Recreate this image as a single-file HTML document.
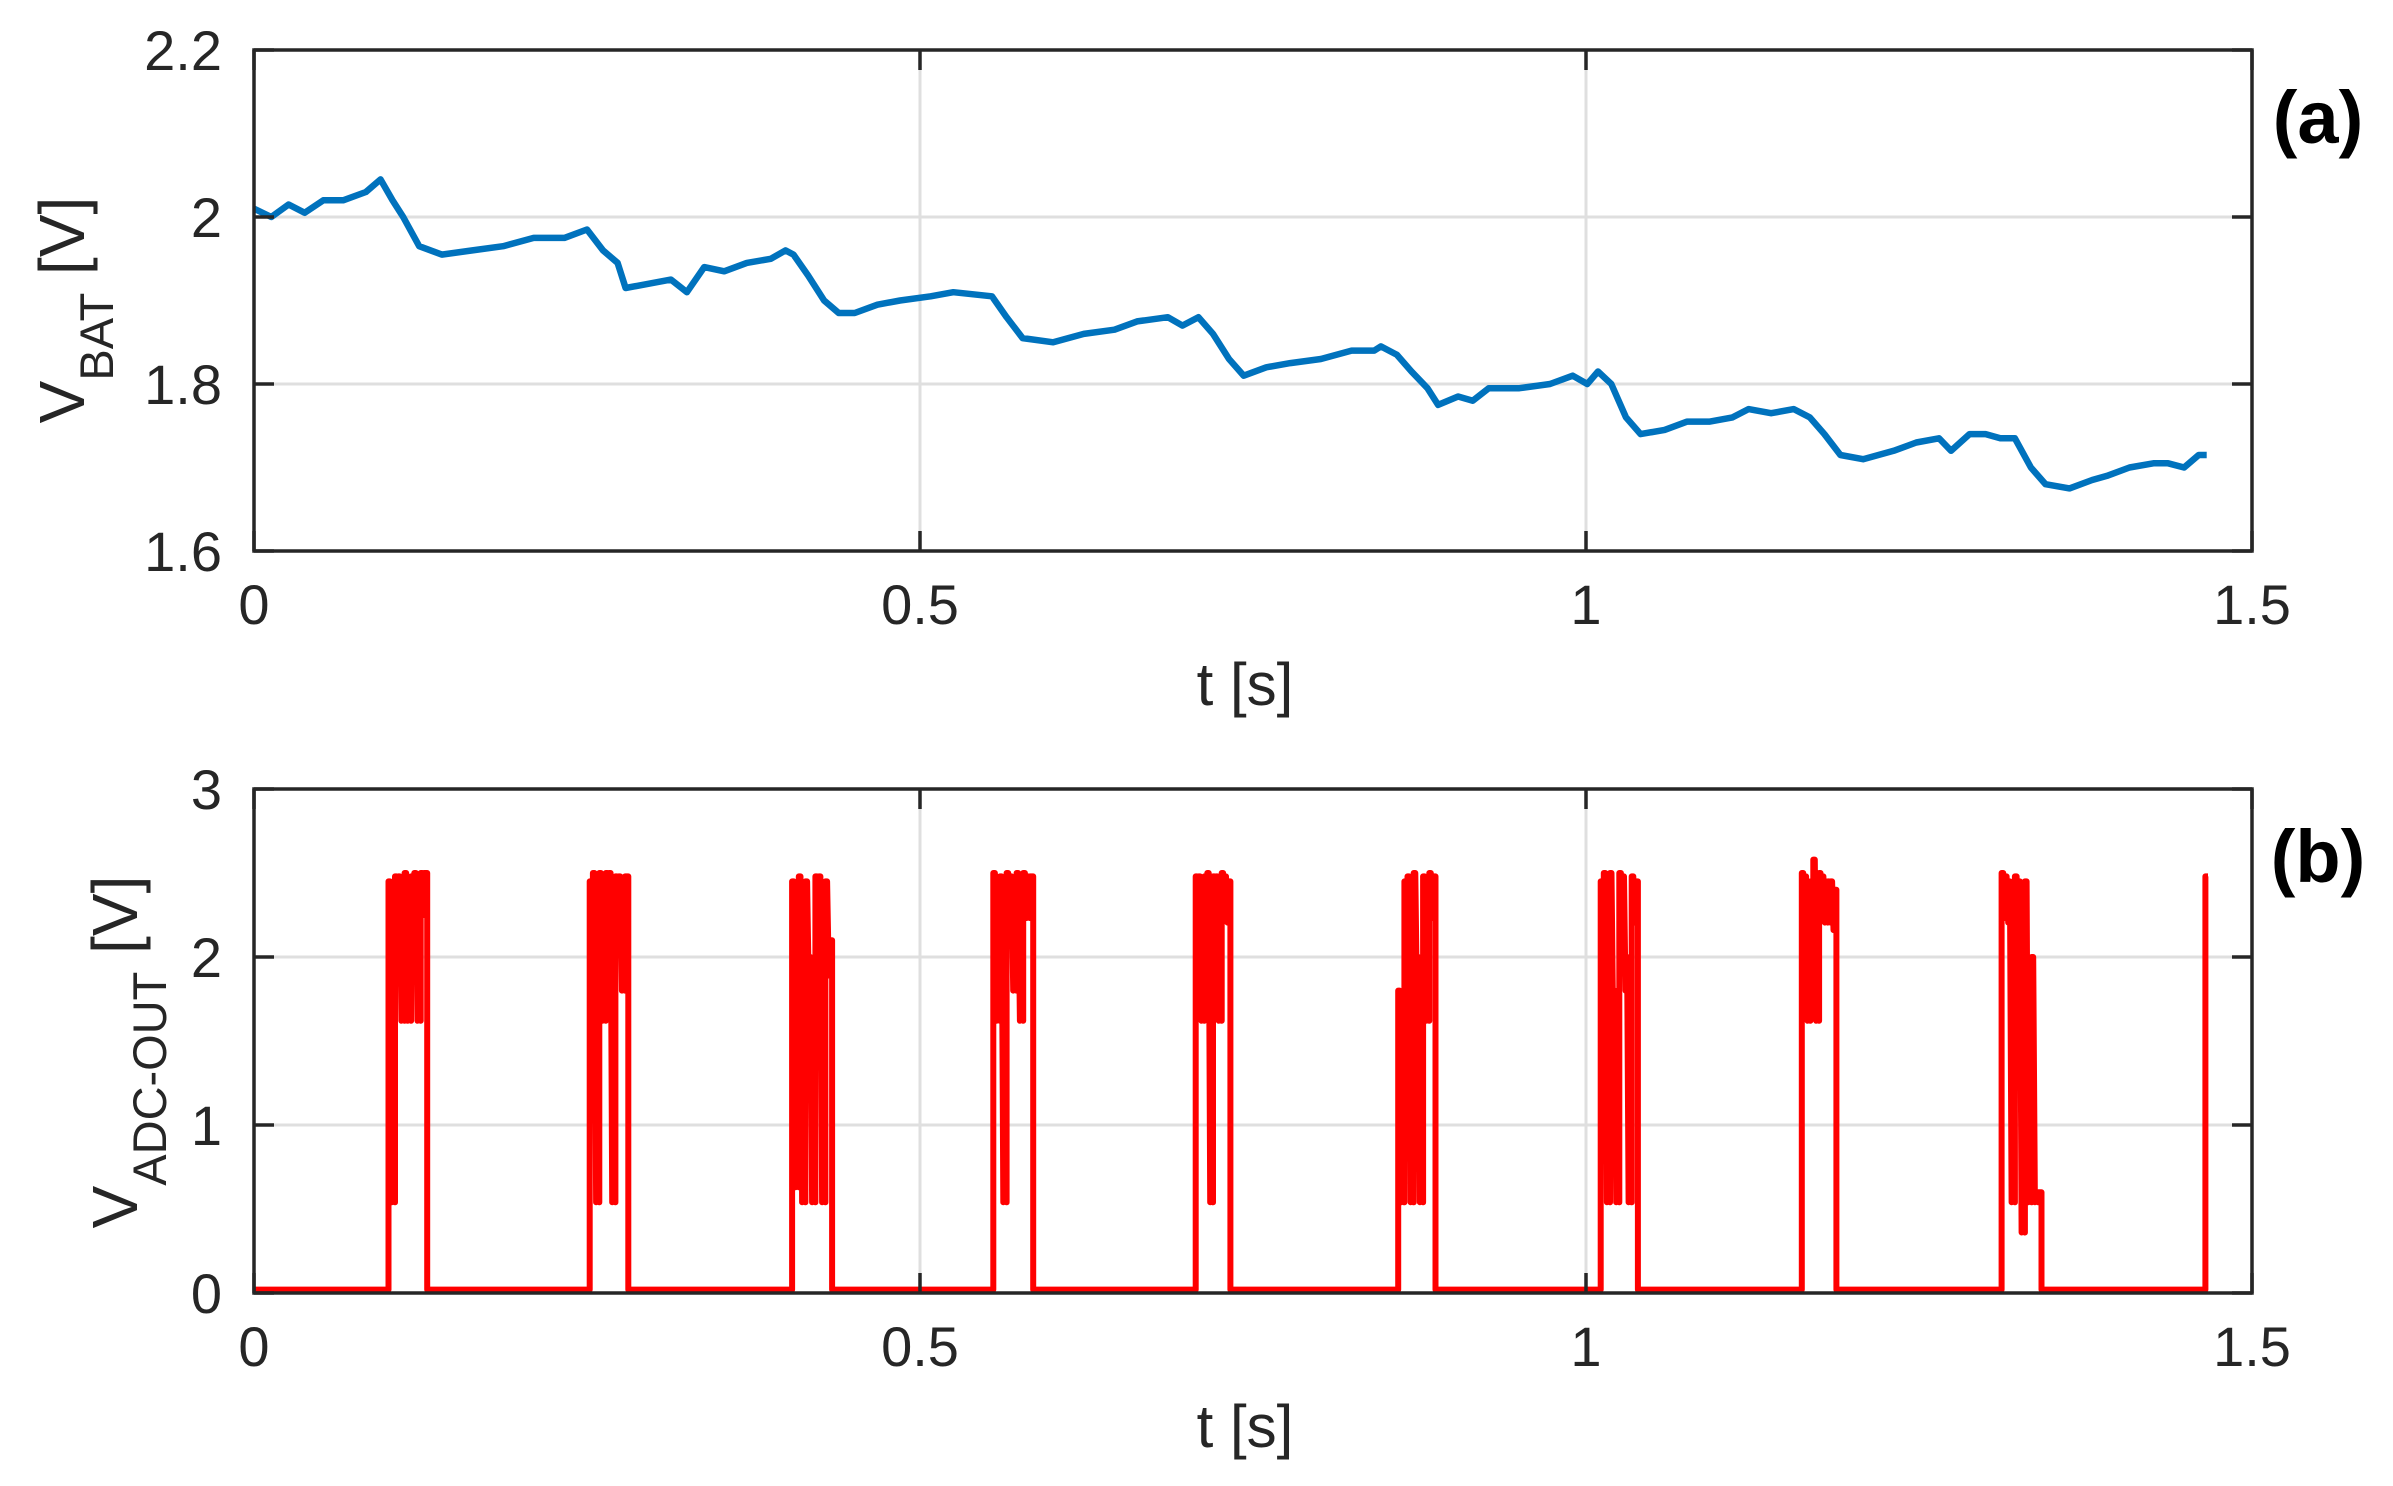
<!DOCTYPE html>
<html><head><meta charset="utf-8"><style>
html,body{margin:0;padding:0;background:#fff;}
svg{display:block;font-family:"Liberation Sans",Arial,sans-serif;}
</style></head><body>
<svg id="chart" width="2393" height="1486" viewBox="0 0 2393 1486" xmlns="http://www.w3.org/2000/svg"></svg>
<script>
// ---- Data: panel (a) battery voltage ----
const batTime = [0,.013,.026,.038,.052,.067,.084,.095,.104,.112,.124,.141,.164,.187,.210,.233,.250,.262,.273,.279,.296,.313,.325,.338,.353,.370,.388,.399,.405,.416,.428,.439,.451,.468,.485,.508,.525,.554,.565,.577,.600,.623,.646,.663,.686,.697,.709,.720,.732,.743,.760,.778,.801,.824,.841,.846,.858,.869,.881,.889,.904,.915,.927,.950,.973,.990,1.001,1.009,1.019,1.030,1.041,1.059,1.076,1.093,1.110,1.122,1.139,1.156,1.168,1.179,1.191,1.208,1.231,1.248,1.265,1.274,1.288,1.300,1.311,1.322,1.334,1.345,1.363,1.380,1.391,1.408,1.426,1.437,1.449,1.460,1.466];
const batVolt = [2.01,2.0,2.015,2.005,2.02,2.02,2.03,2.045,2.02,2.0,1.965,1.955,1.96,1.965,1.975,1.975,1.985,1.96,1.945,1.915,1.92,1.925,1.91,1.94,1.935,1.945,1.95,1.96,1.955,1.93,1.9,1.885,1.885,1.895,1.9,1.905,1.91,1.905,1.88,1.855,1.85,1.86,1.865,1.875,1.88,1.87,1.88,1.86,1.83,1.81,1.82,1.825,1.83,1.84,1.84,1.845,1.835,1.815,1.795,1.775,1.785,1.78,1.795,1.795,1.8,1.81,1.8,1.815,1.8,1.76,1.74,1.745,1.755,1.755,1.76,1.77,1.765,1.77,1.76,1.74,1.715,1.71,1.72,1.73,1.735,1.72,1.74,1.74,1.735,1.735,1.7,1.68,1.675,1.685,1.69,1.7,1.705,1.705,1.7,1.715,1.715];
const aYTicks = [1.6,1.8,2.0,2.2];
const aYTickLabels = ["1.6","1.8","2","2.2"];
// ---- Data: panel (b) ADC output ----
const burstStart = [.101,.252,.404,.555,.707,.859,1.011,1.162,1.312,1.465];
const burstEnd   = [.130,.281,.434,.585,.733,.887,1.039,1.188,1.342,1.467];
const burstLevels = [
 [2.45,0.6,2.48,2.48,1.8,2.5,1.8,2.48,2.5,1.8,2.5,2.5],
 [2.45,2.5,0.6,2.5,1.8,2.5,2.5,0.6,2.48,2.48,2.0,2.48],
 [2.45,0.7,2.48,0.6,2.45,2.0,0.6,2.48,2.48,0.6,2.45,2.1],
 [2.5,1.8,2.48,0.6,2.5,2.48,2.0,2.5,1.8,2.5,2.48,2.48],
 [2.48,2.48,1.8,2.48,2.5,0.6,2.48,2.48,1.8,2.5,2.48,2.45],
 [1.8,0.6,2.45,2.48,0.6,2.5,2.0,0.6,2.48,1.8,2.5,2.48],
 [2.45,2.5,0.6,2.5,1.8,0.6,2.5,2.48,2.0,0.6,2.48,2.45],
 [2.5,2.48,1.8,2.45,2.58,1.8,2.5,2.48,2.45,2.45,2.45,2.4],
 [2.5,2.48,2.45,0.6,2.48,2.45,0.4,2.45,0.6,2.0,0.6,0.6],
 [2.48]
];
const bYTicks = [0,1,2,3];
const bYTickLabels = ["0","1","2","3"];
const xTicks = [0,0.5,1,1.5];
const xTickLabels = ["0","0.5","1","1.5"];

const NS = "http://www.w3.org/2000/svg";
const svg = document.getElementById('chart');
function mk(tag, attrs, parent){ const e=document.createElementNS(NS,tag); for(const k in attrs) e.setAttribute(k,attrs[k]); (parent||svg).appendChild(e); return e; }

const L=254, R=2252;
const xs = t => L + (t/1.5)*(R-L);
const panels = [
 {top:50, bot:551, ymin:1.6, ymax:2.2, ticks:aYTicks, labels:aYTickLabels, name:'a'},
 {top:789, bot:1293, ymin:0, ymax:3, ticks:bYTicks, labels:bYTickLabels, name:'b'}
];
panels.forEach(p => { p.ys = v => p.bot - (v-p.ymin)/(p.ymax-p.ymin)*(p.bot-p.top); });

function drawAxes(p){
  const g = mk('g',{});
  
  
  xTicks.forEach(t=>{ if(t>0&&t<1.5){ const l=mk('line',{x1:xs(t),x2:xs(t),y1:p.top,y2:p.bot,stroke:'#dfdfdf','stroke-width':3},g);
      }});
  p.ticks.forEach(v=>{ if(v>p.ymin&&v<p.ymax){ const l=mk('line',{x1:L,x2:R,y1:p.ys(v),y2:p.ys(v),stroke:'#dfdfdf','stroke-width':3},g);
      }});
  return g;
}
function drawFrame(p){
  const g = mk('g',{});
  
  
  mk('rect',{x:L,y:p.top,width:R-L,height:p.bot-p.top,fill:'none',stroke:'#262626','stroke-width':3.5},g);
  xTicks.forEach((t,i)=>{
    mk('line',{x1:xs(t),x2:xs(t),y1:p.bot,y2:p.bot-20,stroke:'#262626','stroke-width':3.5},g);
    mk('line',{x1:xs(t),x2:xs(t),y1:p.top,y2:p.top+20,stroke:'#262626','stroke-width':3.5},g);
    const tx=mk('text',{x:xs(t),y:p.bot+73,'font-size':56,fill:'#262626','text-anchor':'middle'},g);
    tx.textContent=xTickLabels[i];
     
  });
  p.ticks.forEach((v,i)=>{
    mk('line',{x1:L,x2:L+20,y1:p.ys(v),y2:p.ys(v),stroke:'#262626','stroke-width':3.5},g);
    mk('line',{x1:R,x2:R-20,y1:p.ys(v),y2:p.ys(v),stroke:'#262626','stroke-width':3.5},g);
    const tx=mk('text',{x:222,y:p.ys(v)+20,'font-size':56,fill:'#262626','text-anchor':'end'},g);
    tx.textContent=p.labels[i];
     
  });
  const xl=mk('text',{x:(L+R)/2-8,y:p.bot+154,'font-size':60,fill:'#262626','text-anchor':'middle'},g);
  xl.textContent='t [s]';
   
  const pl=mk('text',{x:2318,y:p.top+93,'font-size':74,'font-weight':'bold',fill:'#000','text-anchor':'middle'},g);
  pl.textContent='('+p.name+')';
   
}

// Panel a
drawAxes(panels[0]);
let d='';
batTime.forEach((t,i)=>{ d += (i?'L':'M')+xs(t).toFixed(1)+','+panels[0].ys(batVolt[i]).toFixed(1); });
const lineA = mk('path',{d:d,fill:'none',stroke:'#0072BD','stroke-width':6.5,'stroke-linejoin':'round'});


drawFrame(panels[0]);

// Panel b
const pb = panels[1];
drawAxes(pb);
let db = 'M'+xs(0)+','+pb.ys(0.02);
burstStart.forEach((s,i)=>{
  const e = burstEnd[i], lv = burstLevels[i], n = lv.length;
  db += 'L'+xs(s).toFixed(1)+','+pb.ys(0.02).toFixed(1);
  lv.forEach((v,k)=>{
    const t0 = s + (e-s)*k/n, t1 = s + (e-s)*(k+0.5)/n, t2 = s+(e-s)*(k+1)/n;
    db += 'L'+xs(t0).toFixed(1)+','+pb.ys(v).toFixed(1);
    db += 'L'+xs(t1).toFixed(1)+','+pb.ys(v).toFixed(1);
    db += 'L'+xs(t2).toFixed(1)+','+pb.ys(k<n-1?Math.min(v,lv[k+1])*0.9:v).toFixed(1);
  });
  if (e < 1.46) db += 'L'+xs(e).toFixed(1)+','+pb.ys(0.02).toFixed(1);
});
const lineB = mk('path',{d:db,fill:'none',stroke:'#ff0000','stroke-width':6,'stroke-linejoin':'round'});


drawFrame(pb);

// Y axis titles
const ya = mk('text',{transform:'translate(84,310) rotate(-90)','font-size':64,fill:'#262626','text-anchor':'middle'});


ya.innerHTML = 'V<tspan font-size="47" dy="29">BAT</tspan><tspan dy="-29"> [V]</tspan>';
const yb = mk('text',{transform:'translate(137,1052) rotate(-90)','font-size':64,fill:'#262626','text-anchor':'middle'});


yb.innerHTML = 'V<tspan font-size="47" dy="29">ADC-OUT</tspan><tspan dy="-29"> [V]</tspan>';
</script>
</body></html>
